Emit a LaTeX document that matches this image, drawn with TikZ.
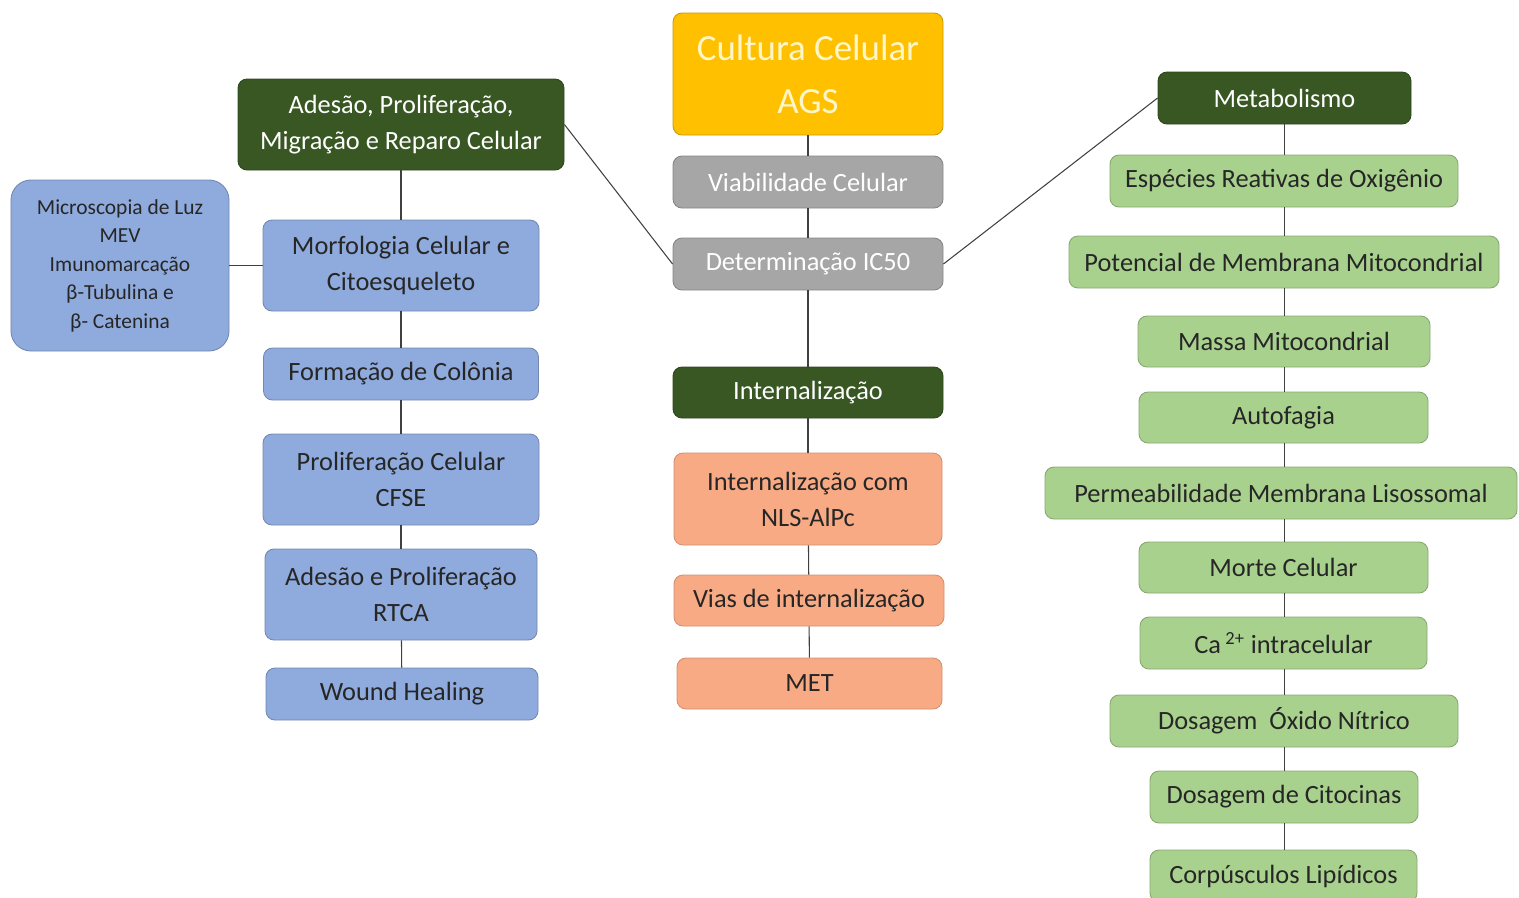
\documentclass[tikz,border=0pt]{standalone}
\usepackage{fontspec}
\setmainfont{Carlito}
\usepackage{tikz}
\usetikzlibrary{positioning, calc}
\definecolor{darkleaf}{RGB}{56, 87, 35}
\definecolor{boxgray}{RGB}{166, 166, 166}
\definecolor{goldbox}{RGB}{255, 192, 0}
\definecolor{paleyellow}{RGB}{255, 246, 200}
\definecolor{leafgreen}{RGB}{169, 209, 142}
\definecolor{skyblue}{RGB}{143, 170, 220}
\definecolor{salmon}{RGB}{247, 170, 132}

\tikzset{
  card/.style={draw, rounded corners=0.18cm, inner sep=0pt, align=center, line width=0.5pt, font=\fontsize{15}{20.5}\selectfont},
  headbox/.style={card, fill=darkleaf, draw=darkleaf!80!black, text=white},
  graybox/.style={card, fill=boxgray, draw=boxgray!80!black, text=white},
  bluebox/.style={card, fill=skyblue, draw=skyblue!80!black, text=black!85},
  greenbox/.style={card, fill=leafgreen, draw=leafgreen!80!black, text=black!85},
  salmonbox/.style={card, fill=salmon, draw=salmon!85!black, text=black!85},
  link/.style={draw=black!75, line width=0.6pt}
}

\begin{document}
\begin{tikzpicture}
        \useasboundingbox (0,0) rectangle (30.38,-17.94);

        % Central column
        \node[card, fill=goldbox, draw=goldbox!80!black, text=paleyellow, minimum width=5.4cm, minimum height=2.44cm, font=\fontsize{21}{30}\selectfont] (cult) at (16.16,-1.48) {Cultura Celular\\AGS};
        \node[graybox, minimum width=5.4cm, minimum height=1.04cm] (viab) at (16.16,-3.64) {Viabilidade Celular};
        \node[graybox, minimum width=5.4cm, minimum height=1.04cm] (ic50) at (16.16,-5.28) {Determinação IC50};
        \node[headbox, minimum width=5.4cm, minimum height=1.02cm] (intern) at (16.16,-7.85) {Internalização};
        \node[salmonbox, minimum width=5.36cm, minimum height=1.84cm] (nls) at (16.16,-9.98) {Internalização com\\NLS-AlPc};
        \node[salmonbox, minimum width=5.4cm, minimum height=1.02cm] (vias) at (16.18,-12.01) {Vias de internalização};
        \node[salmonbox, minimum width=5.3cm, minimum height=1.02cm] (met) at (16.19,-13.67) {MET};

        % Left column
        \node[headbox, minimum width=6.52cm, minimum height=1.82cm] (adesao) at (8.02,-2.49) {Adesão, Proliferação,\\Migração e Reparo Celular};
        \node[bluebox, minimum width=5.52cm, minimum height=1.82cm] (morf) at (8.02,-5.31) {Morfologia Celular e\\Citoesqueleto};
        \node[bluebox, minimum width=5.5cm, minimum height=1.04cm] (colonia) at (8.02,-7.48) {Formação de Colônia};
        \node[bluebox, minimum width=5.52cm, minimum height=1.82cm] (cfse) at (8.02,-9.59) {Proliferação Celular\\CFSE};
        \node[bluebox, minimum width=5.44cm, minimum height=1.82cm] (rtca) at (8.02,-11.89) {Adesão e Proliferação\\RTCA};
        \node[bluebox, minimum width=5.44cm, minimum height=1.04cm] (wound) at (8.04,-13.88) {Wound Healing};
        \node[bluebox, minimum width=4.36cm, minimum height=3.42cm, rounded corners=0.4cm, font=\fontsize{12.2}{16.2}\selectfont] (micro) at (2.40,-5.31) {Microscopia de Luz\\MEV\\Imunomarcação\\β-Tubulina e\\β- Catenina};

        % Right column
        \node[headbox, minimum width=5.06cm, minimum height=1.04cm] (metab) at (25.69,-1.96) {Metabolismo};
        \node[greenbox, minimum width=6.96cm, minimum height=1.04cm] (ero) at (25.68,-3.62) {Espécies Reativas de Oxigênio};
        \node[greenbox, minimum width=8.6cm, minimum height=1.04cm] (pot) at (25.68,-5.24) {Potencial de Membrana Mitocondrial};
        \node[greenbox, minimum width=5.84cm, minimum height=1.02cm] (massa) at (25.68,-6.83) {Massa Mitocondrial};
        \node[greenbox, minimum width=5.78cm, minimum height=1.02cm] (auto) at (25.67,-8.35) {Autofagia};
        \node[greenbox, minimum width=9.44cm, minimum height=1.04cm] (perm) at (25.62,-9.86) {Permeabilidade Membrana Lisossomal};
        \node[greenbox, minimum width=5.78cm, minimum height=1.02cm] (morte) at (25.67,-11.35) {Morte Celular};
        \node[greenbox, minimum width=5.74cm, minimum height=1.04cm] (ca) at (25.67,-12.86) {Ca\,\textsuperscript{2+} intracelular};
        \node[greenbox, minimum width=6.96cm, minimum height=1.04cm] (oxido) at (25.68,-14.42) {Dosagem~~Óxido Nítrico};
        \node[greenbox, minimum width=5.36cm, minimum height=1.04cm] (cito) at (25.68,-15.94) {Dosagem de Citocinas};
        \node[greenbox, minimum width=5.34cm, minimum height=1.04cm] (lipid) at (25.67,-17.52) {Corpúsculos Lipídicos};

        % Connectors
        \foreach \a/\b in {cult/viab, viab/ic50, ic50/intern, intern/nls, nls/vias, vias/met}{
          \draw[link] (\a) -- (\b);
        }
        \foreach \a/\b in {adesao/morf, morf/colonia, colonia/cfse, cfse/rtca, rtca/wound}{
          \draw[link] (\a) -- (\b);
        }
        \foreach \a/\b in {metab/ero, ero/pot, pot/massa, massa/auto, auto/perm, perm/morte, morte/ca, ca/oxido, oxido/cito, cito/lipid}{
          \draw[link] (\a.south -| metab) -- (\b.north -| metab);
        }
        \draw[link] (micro.east) -- (morf.west);
        \draw[link] (adesao.east) -- (ic50.west);
        \draw[link] (ic50.east) -- (metab.west);
      \end{tikzpicture}
\end{document}
